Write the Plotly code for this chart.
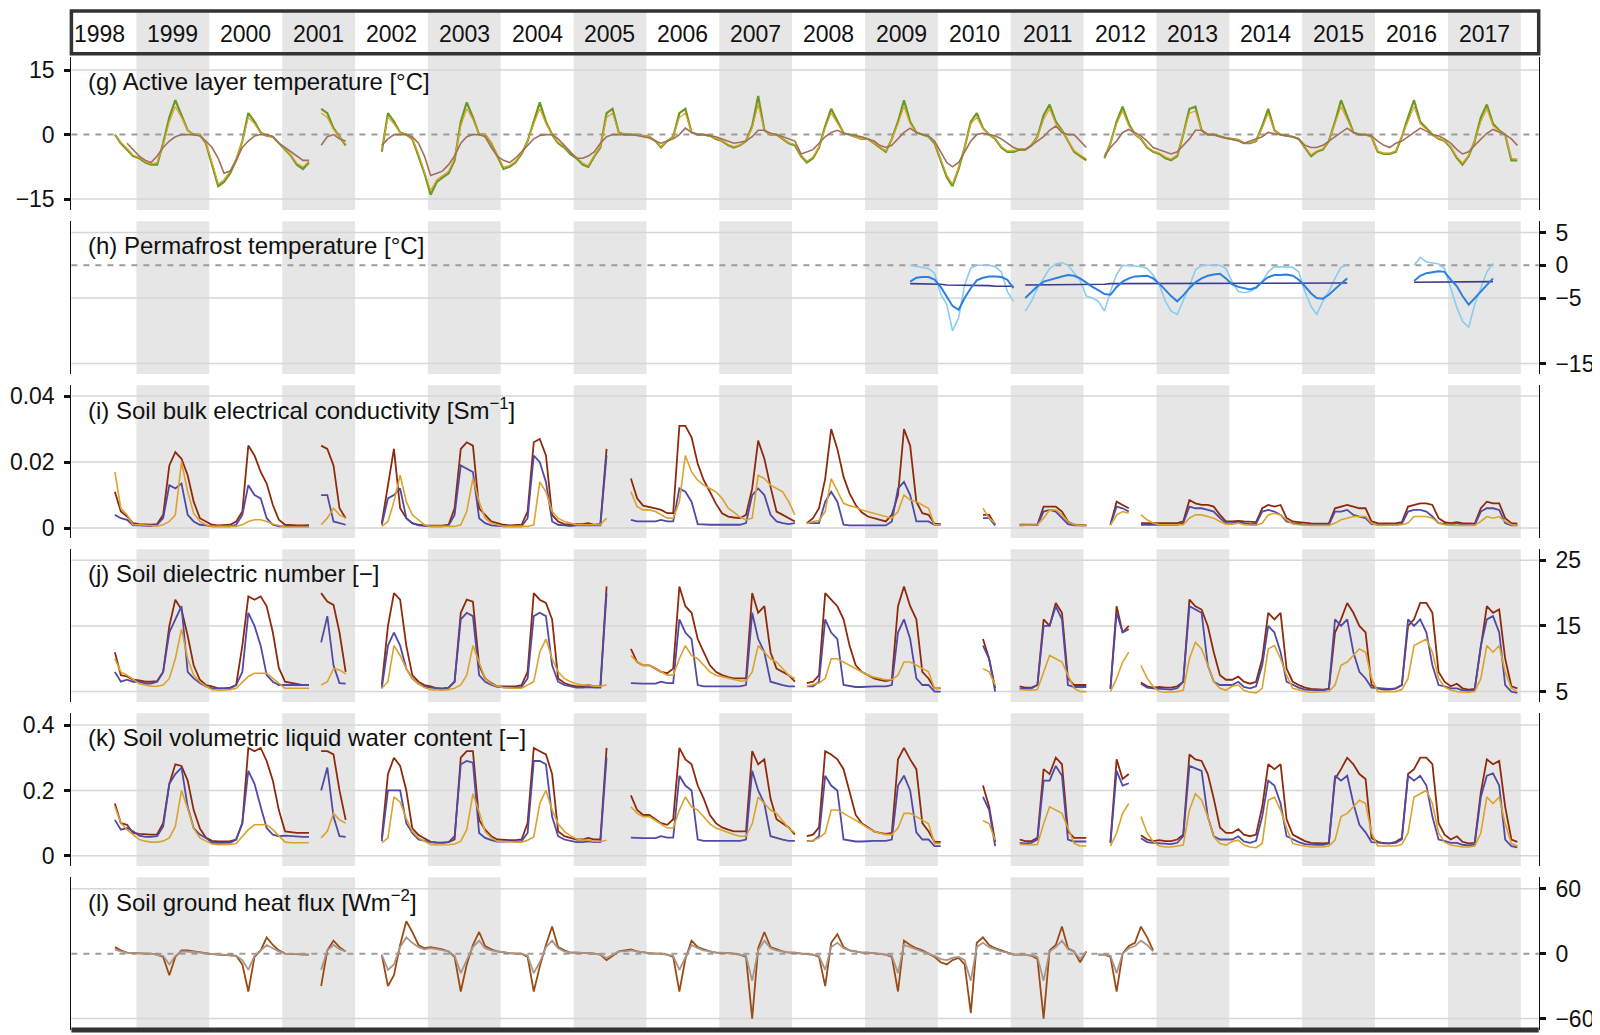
import plotly.graph_objects as go

N = None
YEARS = list(range(1998, 2018))
MONTHS = [f"{y}-{m:02d}-15" for y in YEARS for m in range(1, 13)]   # mid-month sample dates
YEAR_LABELS = [str(y) for y in YEARS]

# ---------------- (g) Active layer temperature [degC], monthly 1998-2017 ----------------
g_green = [
 N,N,N,N,N,N,N,N,0,-2,-3.5,-5,
 -5.5,-6.5,-7,-7,-2,4,8,4.5,1,0,0,-2,
 -7,-12,-11,-9,-6,-1.5,5,3,0.5,-0.3,-0.5,-2,
 -3.5,-5,-7,-8,-6.5,N,6,5,1.5,-0.5,-2.5,N,
 N,N,N,N,-4,5,3,0.5,0,-1,-5,-9,
 -14,-11,-10,-9,-6,3,7.5,4,0,0,-2,-5,
 -8,-7.5,-6.5,-4.5,-1.5,3,7.5,3,0,-2,-3,-4.5,
 -5.5,-7,-7.5,-5,-3,5,6,0.5,0,0,0,-0.3,
 -0.5,-1.5,-3,-1.5,-0.5,5,6,0.5,0,0,-0.3,-1,
 -1.5,-2.5,-3,-2.5,-1.5,2,9,1,0,0,-1,-2,
 -2.5,-5,-6.5,-5.5,-3,2,6,3,0.3,0,-0.5,-1,
 -1,-2,-3,-4,-1,3,8,3,0.5,0,-0.5,-2,
 -6,-10,-12,-8,-3,3,5,1.5,0,-1,-3,-4,
 -4,-3.5,-3.5,-2.5,-0.5,4.5,7,3,1,-1.5,-4,-5,
 -6,N,N,-5.5,-2,3,6.5,2.5,0,-1,-3,-4,
 -4.5,-5.5,-6,-5,0,6,6.5,1,0,0,-0.5,-0.8,
 -1,-1.2,-2,-2,-1.5,2,6,1,0,-0.3,-0.5,-1,
 -3,-5,-4,-3.5,-1.5,3,8,4,0.5,0,0,-0.5,
 -4,-4.5,-4.5,-4,-0.5,4,8,3,1.5,0,-1,-1.5,
 -3,-5.5,-7,-5,-1.5,4,7,2.5,1,0,-6,-6]
g_orange = [
 N,N,N,N,N,N,N,N,0,-1.8,-3.2,-4.8,
 -5.3,-6.3,-6.8,-6.5,-2.5,3,6.5,4,1,0,0,-1.8,
 -6.5,-11.5,-10.5,-8.5,-5.5,-1.5,4,2.5,0.3,-0.3,-0.5,-1.8,
 -3.3,-4.8,-6.7,-7.5,-6.2,N,5,4,1.2,-0.4,-2.2,N,
 N,N,N,N,-3.5,4,2.5,0.4,0,-0.8,-4.5,-8.5,
 -13,-10.5,-9.5,-8.5,-5.5,2,6,3.5,0,0,-1.8,-4.8,
 -7.5,-7.2,-6.2,-4.3,-1.5,2.5,6,2.5,0,-1.8,-2.8,-4.2,
 -5.2,-6.6,-7.2,-4.8,-2.8,4,5,0.4,0,0,0,-0.3,
 -0.5,-1.4,-2.8,-1.5,-0.5,4,5,0.5,0,0,-0.3,-0.9,
 -1.4,-2.3,-2.8,-2.4,-1.4,1.5,7,1,0,0,-0.9,-1.9,
 -2.3,-4.7,-6.2,-5.2,-2.8,1.5,5,2.5,0.3,0,-0.5,-1,
 -1,-1.9,-2.8,-3.8,-1,2.5,6.5,2.5,0.5,0,-0.5,-1.8,
 -5.6,-9.5,-11.5,-7.6,-2.9,2.5,4,1.3,0,-0.9,-2.8,-3.8,
 -3.8,-3.4,-3.4,-2.4,-0.5,3.5,6,2.5,0.8,-1.3,-3.7,-4.7,
 -5.6,N,N,-5.2,-1.9,2.5,5.5,2,0,-0.9,-2.8,-3.8,
 -4.3,-5.2,-5.7,-4.7,-0.2,5,5.5,1,0,0,-0.5,-0.8,
 -1,-1.2,-1.9,-1.9,-1.4,1.5,5,0.8,0,-0.3,-0.5,-1,
 -2.8,-4.7,-3.8,-3.3,-1.4,2.5,6.5,3.5,0.4,0,0,-0.5,
 -3.8,-4.3,-4.3,-3.8,-0.5,3,6.5,2.5,1.2,0,-0.9,-1.4,
 -2.8,-5.2,-6.6,-4.8,-1.4,3,6,2,0.8,0,-5.5,-5.7]
g_brown = [
 N,N,N,N,N,N,N,N,N,N,-2,-3.5,
 -5,-6,-6.5,-5,-3,-1.5,-0.5,0,0,0,-0.3,-1.5,
 -3,-5.5,-9,-8.5,-6,-3,-1.5,-0.3,0,0,-0.5,-2,
 -3,-4,-5,-6,-6,N,-2.5,-0.5,0,-1,-1.5,N,
 N,N,N,N,-2.5,-1,0,0,0,-0.5,-2,-5,
 -9.5,-9,-8.5,-7,-5,-2,-0.5,0,0,-0.5,-3,-5,
 -6,-6.5,-5.5,-4,-2.5,-1,-0.2,0,0,-1,-2.5,-4,
 -5.5,-5.5,-5,-4,-2,-0.5,0,0,0,0,-0.2,-0.5,
 -0.8,-1.5,-2,-1.5,-1,0,1.5,0.5,0,0,-0.2,-0.5,
 -1,-1.5,-2,-1.8,-1.5,-0.5,1,1,0.3,0,-0.5,-1,
 -1.5,-4.5,-4,-3.5,-2,-0.5,0.5,1,0.3,0,-0.3,-0.5,
 -1,-1.5,-2.5,-3,-2.5,-1,0.5,1.5,0.5,0,-0.3,-1.5,
 -4,-6.5,-7.5,-6.5,-4,-1.5,0,0.3,0,-0.3,-1,-2,
 -3,-3.5,-3.5,-2.5,-1.5,-0.5,1,2,0.5,0,0,-1.5,
 -3,N,N,-5,-3,-1.5,0.5,1.2,0.5,-0.3,-1.5,-3,
 -3.5,-4,-4.5,-4,-2.5,-1,1,1,0,0,-0.5,-0.8,
 -1.2,-1.5,-2,-1.5,-1,-0.5,0.5,0.2,0,-0.3,-0.5,-1,
 -2.5,-3,-3,-2.5,-1.5,-0.5,0.5,1.5,0.5,0,0,-0.3,
 -1.5,-2.5,-3,-2,-1.5,-0.5,0.5,1.5,0.8,0,-0.3,-1,
 -2,-3.5,-4.5,-4,-2.5,-1,0.3,1.2,0.5,0,-1,-2.5]

# ---------------- (h) Permafrost temperature [degC], monthly 2009-2017 ----------------
h_shallow = [
 N,N,N,N,N,N,N,0,-0.2,-0.3,-0.5,-1.2,
 -4.4,-6,-10,-8,-3,-0.4,0,0,0,-0.2,-1,-4,
 -5.5,N,-7,-5.5,-3.5,-2,-0.5,0.2,0.4,0,-1.2,-2.3,
 -4.7,-5,-5.5,-7,-4,-1.4,0,0,-0.1,-0.2,-0.5,-1.5,
 -3,-5.5,-7,-7.5,-5.5,-3.2,-0.7,0,0,0,0,-0.5,
 -2.5,-4,-4.2,-4,-3.5,-2.5,-1,-0.2,-0.2,-0.2,-0.3,-1,
 -4,-6.3,-7.5,-5.5,-4,-2,-0.3,0,N,N,N,N,
 N,N,N,N,N,N,0,1.2,0.5,0.4,0.2,-0.5,
 -3.5,-6.5,-8.5,-9.5,-6,-3.5,-1,0.3,N,N,N,N]
h_mid = [
 N,N,N,N,N,N,N,-2.5,-1.9,-1.8,-1.8,-2.2,
 -3.3,-4.8,-6.2,-6.8,-5,-3.5,-2.3,-1.9,-1.7,-1.7,-1.8,-2.2,
 -3.5,N,-5,-4,-3.2,-2.5,-2.2,-1.9,-1.7,-1.5,-1.6,-2,
 -2.7,-3.3,-3.8,-4.4,-4.5,-3.3,-2.5,-2,-1.7,-1.6,-1.6,-2,
 -2.8,-3.8,-4.7,-5.5,-4.6,-3.5,-2.6,-2,-1.6,-1.4,-1.3,-2,
 -2.9,-3.3,-3.5,-3.7,-3.4,-2.5,-1.8,-1.5,-1.5,-1.4,-1.6,-2.2,
 -3.2,-4.3,-5,-5.1,-4.5,-3.6,-2.8,-2,N,N,N,N,
 N,N,N,N,N,N,-2.4,-1.6,-1.2,-1,-0.9,-1,
 -2.2,-3.2,-4.7,-6,-5,-3.9,-2.9,-2,N,N,N,N]
h_deep = [
 N,N,N,N,N,N,N,-2.8,-2.8,-2.9,-2.9,-2.9,
 -2.9,-3,-3,-3,-3,-3,-3.1,-3.1,-3.1,-3.2,-3.2,-3.2,
 -3.2,N,-3,-3,-3,-2.9,-2.9,-2.9,-2.9,-2.9,-2.9,-2.9,
 -2.9,-2.9,-2.9,-2.9,-2.8,-2.8,-2.8,-2.8,-2.8,-2.8,-2.8,-2.8,
 -2.8,-2.8,-2.8,-2.8,-2.8,-2.8,-2.8,-2.8,-2.8,-2.8,-2.8,-2.8,
 -2.8,-2.8,-2.8,-2.8,-2.7,-2.7,-2.7,-2.7,-2.7,-2.7,-2.7,-2.7,
 -2.7,-2.7,-2.7,-2.7,-2.7,-2.7,-2.7,-2.7,N,N,N,N,
 N,N,N,N,N,N,-2.6,-2.6,-2.6,-2.6,-2.6,-2.6,
 -2.6,-2.6,-2.6,-2.6,-2.5,-2.5,-2.5,-2.5,N,N,N,N]

# ---------------- (i) Soil bulk electrical conductivity, in mS m-1, monthly 1998-2017 ----------------
i_red = [
 N,N,N,N,N,N,N,N,11,5,3.5,1.5,
 1.2,1,1,1.2,4,19,23,21,16,8,3,2,
 1,0.8,0.8,1,2,5,25,22,17,13.5,7,2.5,
 1,0.8,0.8,0.8,0.9,N,25,24,19,6,3,N,
 N,N,N,N,1.5,13,24,6,3,1.5,1,0.8,
 0.8,0.7,0.7,1,6,24,26,25,6,4,2,1.5,
 1,0.8,0.8,1,5,26,27,22,4,2,1.2,1,
 1.2,1.2,1.5,1,1.2,24,N,N,N,15,9,6.8,
 6.5,6,5.5,4.5,4.5,31,31,27.5,19.5,14.5,11,7.4,
 4.5,3.5,3.2,3,4,12,26.5,21,12.5,5,4,3,
 2,N,1.5,3,6,15,30,24,15.5,10.5,7,4.8,
 3.5,3,2.5,2,4,10,30,25,8,4.5,4,1.3,
 1.2,N,N,N,N,N,N,4,4,1,N,N,
 N,1,1,1,1,6.5,6.5,6.5,5,2,1,0.8,
 0.8,N,N,N,1,8,7,6,N,1.5,1.5,1.5,
 1.5,1.5,1.5,1.5,2,8.5,7.5,7,7,6.5,4,2,
 2,2.2,2,1.8,1.8,6,7,6.5,7,3,2,1.8,
 1.5,1.4,1.3,1.3,1.4,6,6.5,7,6.5,6,6,2,
 1.5,1.4,1.4,1.5,1.8,6.5,7,7.5,7.5,7,3,1.8,
 1.5,1.8,1.5,1.3,1.3,6,8,7.5,7.5,3,1.5,1.3]
i_navy = [
 N,N,N,N,N,N,N,N,4,3,2.5,0.8,
 0.8,0.6,0.6,1,3,13,12,13.5,4,2,1,0.8,
 0.5,0.5,0.5,0.5,1,4,13,10,9,3,1,0.5,
 0.5,0.5,0.5,0.5,0.5,N,10,10,2,1.5,1,N,
 N,N,N,N,1,9,10,12,3,1.5,0.8,0.6,
 0.5,0.5,0.5,0.8,4,19,18,17,3,1.5,0.8,0.6,
 0.5,0.5,0.5,0.5,3,22,20,14,2,1,0.8,0.6,
 0.8,0.8,0.9,0.8,0.8,22,N,N,N,2.5,2,2,
 2,2,2.5,2,2,12,11,8,1.2,1,1,1,
 1,1,1,1,1.5,10,12,10,4,2,1.5,1.2,
 1.5,N,1.5,1.5,1.5,8,11,8,1,0.8,0.8,0.8,
 0.8,0.8,0.8,0.8,2,12,14,10,2,2,2,1,
 1,N,N,N,N,N,N,3,3,0.8,N,N,
 N,0.8,0.8,0.8,1,5,5.5,5,3,1.2,0.8,0.8,
 0.8,N,N,N,1,6.5,6,5,N,1,1,1,
 1,1,1,1,1.5,6.5,6,6,5.5,5,3,1.5,
 1.5,1.8,1.5,1.2,1.3,5,5.5,5,4,2,1.5,1.2,
 1,1,1,1,1,5,5,5.5,4,3.5,3,1.2,
 1,1,1,1,1.3,5,5.5,5.5,5,3.5,1.5,1.2,
 1,1.5,1,0.9,0.9,5,6,6,5.5,1.5,0.8,0.8]
i_orange = [
 N,N,N,N,N,N,N,N,17,6,4,1,
 1,0.8,0.6,0.6,1,2,4,20,11,4.5,2,1,
 0.5,0.5,0.5,0.5,0.5,1,2,2.5,2.5,2,1.2,0.8,
 0.3,0.3,0.3,0.3,0.3,N,1,3,6,4,3,N,
 N,N,N,N,0.5,2,8,16,8,4,2.5,1,
 0.5,0.5,0.5,0.5,0.5,1,5,15,8,3,1.5,1,
 0.5,0.5,0.5,0.5,0.5,1,14,11,5,3,2,1.5,
 1,1,1,1,1,3,N,N,N,11,6.5,5.5,
 5.5,5,4,3,3,8,22,17,14.5,13,12,11,
 9,6,4.8,3.3,2.5,3,16,15,13,12,11,8,
 4,N,1.3,2,2.3,5,15,11,7.5,6.8,6.3,5.5,
 5,4.5,4,3.5,3,5,10,8.5,8,7,6,1,
 1,N,N,N,N,N,N,6,3,1.5,N,N,
 N,0.8,0.8,0.8,1,3,5.5,5.5,4,2,1,0.8,
 0.8,N,N,N,0.8,4,5,4.5,N,4,2.5,1.5,
 1,1,1,1,1,3,4,4,3.5,3,2,1.2,
 1.2,1.5,1,0.8,0.8,1.5,4,4.5,4,2.5,1.2,1,
 0.8,0.8,0.8,0.8,0.8,1.5,2.5,3,3.5,3.5,3.5,1.5,
 0.8,0.8,0.8,0.8,1,1.5,3.5,3.5,3.5,3,1.5,1,
 0.8,0.8,0.8,0.8,0.8,2,3.5,3,3.5,2,1,0.8]

# ---------------- (j) Soil dielectric number [-], monthly 1998-2017 ----------------
j_red = [
 N,N,N,N,N,N,N,N,11,7.5,7.3,6.8,
 6.7,6.5,6.5,6.6,8,15,19,17.5,13.5,9,6.8,6,
 5.8,5.5,5.5,5.6,6,12,19.5,19,19.5,18,14,8.6,
 6.5,6.3,6.2,6,6,N,20,18.7,18.2,14,8,N,
 N,N,N,N,6,15,20,19,12,7.5,6.5,6,
 5.8,5.5,5.4,5.6,6.5,17,19,18.7,9,7,6.3,5.8,
 5.8,5.8,5.8,6,8,20,19,18.5,16,7,6.3,6,
 5.8,5.8,6,5.8,5.8,21,N,N,N,11.5,9.5,9,
 9,8.5,8,7.8,8.5,21,18,17,13,11,9,8,
 7.5,7.2,7,7,7,20,17,18,11,8.5,8,7.5,
 6.5,N,6.3,6.5,7.5,20,19,18,16,12,9,8,
 7.5,7,6.8,6.6,6.8,18,21,18,16,8,7,5.5,
 5.5,N,N,N,N,N,N,13,10,5.5,N,N,
 N,5.8,5.6,5.6,6,16,15,18.5,17,7,6,6,
 6,N,N,N,5.5,18,14,15,N,6.4,5.8,5.6,
 5.7,5.6,5.6,5.8,6.5,19,18,17.5,15,11,7.5,6.8,
 6.8,7.3,6.5,6.2,6.5,10,17,16,17,8.5,6.5,6,
 5.6,5.4,5.3,5.3,5.4,14,16,18.5,17,15,14,6,
 5.5,5.3,5.3,5.5,6,15,16,18.5,18.5,17,8,6.5,
 5.8,6.2,5.5,5.3,5.4,12,18,17,17.5,10,5.8,5.5]
j_navy = [
 N,N,N,N,N,N,N,N,8,6.5,6.8,6.5,
 6.5,6.2,6.2,6.5,8,14,16,18,8,7,6.3,5.8,
 5.5,5.5,5.5,5.5,6,8,17,15,12,7.5,6.5,6,
 6,6,6,6,6,N,12.5,16.5,9,6.3,6.2,N,
 N,N,N,N,5.5,12,14,12,8.5,7,6.2,5.8,
 5.6,5.5,5.5,5.6,6.5,16,17,16.5,7.5,6.5,6,5.7,
 5.6,5.6,5.6,5.7,7,16.5,17,16.5,9,6.5,6,5.8,
 5.6,5.6,5.7,5.6,5.6,20,N,N,N,6.3,6.2,6.2,
 6.2,6.2,6.5,6.3,6.3,16,14,13,6,5.8,5.8,5.8,
 5.8,5.8,5.8,5.8,6,17,13,11,6.5,6.2,6,5.8,
 5.8,N,5.8,5.8,6.5,16,14,13,6,5.8,5.7,5.7,
 5.8,5.8,5.8,5.8,6,14,16,13,7,6,6,5,
 5,N,N,N,N,N,N,12,10,5,N,N,
 N,5.5,5.4,5.5,6,15,15,18,16,6,5.7,5.7,
 5.7,N,N,N,5.4,17,14,14.5,N,6.2,5.6,5.5,
 5.4,5.3,5.3,5.5,6.5,18,17.5,17,9,6.5,6,6,
 6,6.5,5.7,5.5,5.8,9,15,14,11,6.5,6,5.6,
 5.3,5.2,5.2,5.2,5.4,16,15,16,11,8,7,5.6,
 5.5,5.4,5.4,5.5,6,16,15,16,14,9,6,5.8,
 5.5,5.5,5.2,5.1,5.2,12,16,16.5,14,6,5,4.8]
j_orange = [
 N,N,N,N,N,N,N,N,10,8,7.5,6.8,
 6.2,6,5.8,5.8,6,7,10,14.5,10,7.5,6.5,5.8,
 5.3,5.2,5.2,5.3,5.5,6.5,7.3,7.8,7.8,7.8,7,6.2,
 5.5,5.5,5.5,5.5,5.5,N,6,6.5,8.5,8.3,7.7,N,
 N,N,N,N,5.5,6.5,12,10.5,8.5,7,6.2,5.6,
 5.3,5.2,5.2,5.3,5.5,6,7.5,12,9.5,7,6.2,5.8,
 5.6,5.5,5.5,5.5,6,6.5,11,13,10,8,7,6.5,
 6.2,6,6,5.8,5.8,6,N,N,N,10.5,9.5,9,
 9,8.5,8,7.5,7.5,10,12,10.5,10,9,8,7.5,
 7.3,7,6.8,6.6,6.6,8,12,11,10,9.5,8.5,7.5,
 7,N,5.8,6,6.3,7,10,10,9.5,9,8.5,8,
 7.5,7.2,7,6.8,6.8,7.5,9.5,9.5,9,8.5,8,5.5,
 5.5,N,N,N,N,N,N,8.5,8,6,N,N,
 N,5.3,5.2,5.2,5.3,8,10.5,10,9.5,7.5,5.5,5,
 5,N,N,N,5,7,9.5,11,N,9,7,5.8,
 5,4.9,4.9,5,5.2,10,12.5,11.5,9,6.5,5.5,5.2,
 5.8,6,5.2,4.9,4.8,5.5,11.5,12,10,7.5,5.5,5.2,
 5,4.9,4.9,4.9,5,6,9,9.5,10.5,11.5,11,7,
 5,5,5,5,5.3,7,12,12.5,13,11,7,5.7,
 5.2,5,4.9,4.9,5,7,12,11,12,8,5.5,5]

# ---------------- (k) Soil volumetric liquid water content [-], monthly 1998-2017 ----------------
k_red = [
 N,N,N,N,N,N,N,N,.16,.1,.095,.07,
 .067,.065,.065,.066,.1,.22,.28,.275,.23,.14,.084,.056,
 .046,.044,.044,.045,.05,.1,.33,.32,.33,.29,.23,.14,
 .075,.072,.07,.07,.07,N,.32,.32,.31,.2,.11,N,
 N,N,N,N,.055,.25,.3,.275,.2,.084,.064,.054,
 .043,.041,.04,.042,.05,.3,.32,.32,.11,.08,.06,.05,
 .048,.048,.048,.05,.1,.33,.32,.31,.25,.075,.06,.055,
 .05,.05,.055,.05,.05,.33,N,N,N,.185,.14,.125,
 .125,.112,.1,.095,.112,.33,.295,.28,.215,.175,.125,.1,
 .087,.08,.075,.075,.075,.32,.28,.295,.175,.112,.1,.087,
 .065,N,.06,.065,.087,.32,.31,.295,.265,.195,.125,.1,
 .087,.075,.07,.067,.07,.295,.33,.295,.265,.1,.075,.043,
 .043,N,N,N,N,N,N,.215,.15,.043,N,N,
 N,.05,.045,.045,.055,.265,.25,.3,.28,.075,.055,.055,
 .055,N,N,N,.043,.295,.235,.25,N,.063,.05,.045,
 .048,.045,.045,.05,.065,.31,.295,.29,.25,.175,.087,.07,
 .07,.082,.065,.06,.065,.15,.28,.265,.28,.112,.065,.055,
 .045,.04,.038,.038,.04,.235,.265,.3,.28,.25,.235,.055,
 .043,.038,.038,.043,.055,.25,.265,.3,.3,.28,.1,.065,
 .05,.06,.043,.038,.04,.195,.295,.28,.29,.15,.05,.043]
k_navy = [
 N,N,N,N,N,N,N,N,.11,.08,.085,.075,
 .062,.058,.058,.06,.09,.22,.25,.27,.15,.085,.065,.055,
 .04,.04,.04,.04,.05,.1,.26,.22,.15,.085,.065,.06,
 .062,.06,.06,.058,.058,N,.2,.27,.12,.06,.058,N,
 N,N,N,N,.045,.2,.2,.2,.1,.07,.05,.045,
 .042,.04,.04,.042,.06,.28,.29,.285,.07,.055,.048,.044,
 .044,.044,.044,.045,.07,.29,.29,.28,.12,.06,.05,.046,
 .042,.042,.044,.042,.042,.3,N,N,N,.056,.054,.054,
 .054,.054,.06,.056,.056,.245,.215,.2,.05,.046,.046,.046,
 .046,.046,.046,.046,.05,.26,.2,.16,.06,.054,.05,.046,
 .046,N,.046,.046,.06,.245,.215,.2,.05,.046,.044,.044,
 .046,.046,.046,.046,.05,.215,.245,.2,.072,.05,.05,.03,
 .03,N,N,N,N,N,N,.18,.14,.03,N,N,
 N,.04,.038,.04,.05,.23,.23,.275,.245,.05,.044,.044,
 .044,N,N,N,.038,.26,.215,.222,N,.054,.042,.04,
 .038,.036,.036,.04,.06,.275,.268,.26,.12,.06,.05,.05,
 .05,.06,.044,.04,.046,.12,.23,.215,.16,.06,.05,.042,
 .036,.034,.034,.034,.038,.245,.23,.245,.16,.095,.072,.042,
 .04,.038,.038,.04,.05,.245,.23,.245,.215,.12,.05,.046,
 .04,.04,.034,.032,.034,.18,.245,.252,.215,.05,.03,.026]
k_orange = [
 N,N,N,N,N,N,N,N,.15,.1,.08,.065,
 .05,.045,.042,.042,.045,.055,.09,.2,.145,.084,.055,.045,
 .036,.034,.034,.035,.038,.058,.08,.095,.095,.095,.08,.06,
 .042,.04,.04,.04,.04,N,.055,.075,.13,.11,.1,N,
 N,N,N,N,.04,.055,.18,.165,.114,.075,.055,.045,
 .035,.033,.033,.034,.036,.045,.08,.19,.134,.074,.055,.045,
 .044,.042,.042,.042,.048,.058,.16,.2,.14,.098,.075,.062,
 .052,.048,.048,.044,.044,.048,N,N,N,.15,.13,.12,
 .12,.108,.098,.085,.085,.14,.18,.15,.14,.12,.098,.085,
 .078,.07,.065,.06,.06,.098,.18,.16,.14,.13,.108,.085,
 .07,N,.044,.048,.055,.07,.14,.14,.13,.12,.108,.098,
 .085,.075,.07,.065,.065,.085,.13,.13,.12,.108,.098,.038,
 .038,N,N,N,N,N,N,.108,.098,.048,N,N,
 N,.035,.033,.033,.035,.098,.15,.14,.13,.085,.038,.03,
 .03,N,N,N,.03,.07,.13,.16,N,.12,.07,.044,
 .03,.027,.027,.03,.033,.14,.19,.17,.12,.058,.038,.033,
 .044,.048,.033,.027,.025,.038,.17,.18,.14,.085,.038,.033,
 .03,.027,.027,.027,.03,.048,.12,.13,.15,.17,.16,.07,
 .03,.03,.03,.03,.035,.07,.18,.19,.2,.16,.07,.042,
 .033,.03,.027,.027,.03,.07,.18,.16,.18,.098,.038,.03]

# ---------------- (l) Soil ground heat flux [W m-2], monthly 1998-2012 ----------------
l_flux = [
 N,N,N,N,N,N,N,N,6,3,1,0.5,
 0.5,0,0,-1,-3,-20,-3,3,3,2,1,0,
 -0.5,-1,-1,-1.5,-2,-10,-35,-3,3,15,8,3,
 0,0,-0.5,-1,-1,N,-30,3,12,6,2,N,
 N,N,N,N,-1,-30,-20,8,30,20,8,5,
 6,5,4,2,-3,-35,-10,8,20,7,4,2,
 1,0.5,0,0,-3,-35,-12,8,25,6,3,1,
 1,1,0.5,0,-1,-6,-2,2,3,4,2,1,
 0.5,0,0,-1,-3,-35,-5,12,6,4,2,1,
 1,0.5,0,-1,-3,-60,5,20,6,4,2,1,
 1,0,-0.5,-1,-3,-30,10,18,6,3,2,1,
 1,0.5,0,-1,-3,-35,12,8,5,3,0,-3,
 -8,-10,-6,-4,-10,-55,10,15,8,5,3,1,
 -1,-1,-1,-2,-5,-60,3,8,25,5,2,-8,
 2,N,-1,-1,-3,-35,0,7,10,25,15,3]
l_flux_smooth = [
 N,N,N,N,N,N,N,N,4,2,1,0.5,
 0.5,0,0,-1,-2,-10,-2,2,2,1.5,1,0,
 -0.5,-0.5,-1,-1,-2,-6,-15,-2,3,8,5,2,
 0,0,-0.5,-0.5,-1,N,-15,3,8,4,2,N,
 N,N,N,N,-1,-15,-10,6,15,10,6,4,
 5,4,3,2,-2,-18,-6,6,12,5,3,2,
 1,0.5,0,0,-2,-18,-8,6,12,5,2,1,
 1,1,0.5,0,-1,-4,-1,2,2,3,2,1,
 0.5,0,0,-1,-2,-15,-3,8,5,3,2,1,
 1,0.5,0,-1,-2,-25,3,12,5,3,2,1,
 1,0,-0.5,-1,-2,-15,6,10,5,3,2,1,
 1,0.5,0,-1,-2,-18,8,6,4,2,0,-2,
 -5,-6,-4,-3,-6,-25,6,10,6,4,2,1,
 -1,-1,-1,-1.5,-3,-25,2,6,12,4,2,-5,
 2,N,-1,-1,-2,-18,0,5,7,12,8,2]

# ---------------- layout constants ----------------
# the page body has an 8 px default margin, so the figure is drawn 8 px in from the corner
OFF = 8
W, H = 1600 - OFF, 1035 - OFF
L_PX, R_PX = 71.4, 1538.7          # axis positions in page pixels
XL, XR = (L_PX - OFF) / W, (R_PX - OFF) / W
X_RANGE = ["1998-02-09", "2018-04-01"]
BOX_TOP, BOX_BOT = 9, 52
FONT = "Liberation Sans, Arial, Helvetica, sans-serif"
BAND = "#E6E6E6"
GRID = "#D6D6D6"
MINUS = "\u2212"


def py(px):
    return 1 - (px - OFF) / H


def pxx(px):
    return (px - OFF) / W


panels = [
    dict(top=55.5, bot=209.0, rng=[-17.55, 17.99], side="left",
         tv=[15, 0, -15], tt=["15", "0", MINUS + "15"], grid=[15, -15], dash=[0],
         title="(g) Active layer temperature [°C]"),
    dict(top=220.3, bot=373.8, rng=[-16.6, 6.72], side="right",
         tv=[5, 0, -5, -15], tt=["5", "0", MINUS + "5", MINUS + "15"], grid=[5, -5, -15], dash=[0],
         title="(h) Permafrost temperature [°C]"),
    dict(top=385.1, bot=538.6, rng=[-0.00302, 0.04329], side="left",
         tv=[0.04, 0.02, 0], tt=["0.04", "0.02", "0"], grid=[0.04, 0.02, 0], dash=[],
         title="(i) Soil bulk electrical conductivity [Sm<sup>" + MINUS + "1</sup>]"),
    dict(top=549.9, bot=703.4, rng=[3.41, 26.68], side="right",
         tv=[25, 15, 5], tt=["25", "15", "5"], grid=[25, 15, 5], dash=[],
         title="(j) Soil dielectric number [" + MINUS + "]"),
    dict(top=714.7, bot=868.2, rng=[-0.031, 0.4359], side="left",
         tv=[0.4, 0.2, 0], tt=["0.4", "0.2", "0"], grid=[0.4, 0.2, 0], dash=[],
         title="(k) Soil volumetric liquid water content [" + MINUS + "]"),
    dict(top=879.5, bot=1033.0, rng=[-70.57, 70.57], side="right",
         tv=[60, 0, -60], tt=["60", "0", MINUS + "60"], grid=[60, -60], dash=[0],
         title="(l) Soil ground heat flux [Wm<sup>" + MINUS + "2</sup>]"),
]

fig = go.Figure()


def add(n, x, y, color, width):
    sfx = "" if n == 1 else str(n)
    fig.add_trace(go.Scatter(x=x, y=y, mode="lines", xaxis="x" + sfx, yaxis="y" + sfx,
                             line=dict(color=color, width=width), connectgaps=False,
                             hoverinfo="skip", showlegend=False))


mS = lambda arr: [None if v is None else v / 1000.0 for v in arr]

# (g)
add(1, MONTHS, g_green, "#6B9A22", 2.2)
add(1, MONTHS, g_orange, "#E0A22A", 1.2)
add(1, MONTHS, g_brown, "#A0705A", 1.6)
# (h)
H_MONTHS = MONTHS[132:]
add(2, H_MONTHS, h_shallow, "#8ACDF0", 1.6)
add(2, H_MONTHS, h_deep, "#3D3A8A", 1.6)
add(2, H_MONTHS, h_mid, "#2B7FE3", 2.0)
# (i)
add(3, MONTHS, mS(i_red), "#8E2A0C", 1.8)
add(3, MONTHS, mS(i_navy), "#5149A6", 1.8)
add(3, MONTHS, mS(i_orange), "#DBA22E", 1.6)
# (j)
add(4, MONTHS, j_red, "#8E2A0C", 1.8)
add(4, MONTHS, j_navy, "#5149A6", 1.8)
add(4, MONTHS, j_orange, "#DBA22E", 1.6)
# (k)
add(5, MONTHS, k_red, "#8E2A0C", 1.8)
add(5, MONTHS, k_navy, "#5149A6", 1.8)
add(5, MONTHS, k_orange, "#DBA22E", 1.6)
# (l)
L_MONTHS = MONTHS[:180]
add(6, L_MONTHS, l_flux, "#9A4A14", 1.8)
add(6, L_MONTHS, l_flux_smooth, "#A8968A", 1.8)

shapes = []
annotations = []

# shaded odd years: header box + every panel
odd_years = [y for y in YEARS if y % 2 == 1]
spans = [(BOX_TOP, BOX_BOT), (BOX_BOT, panels[0]["bot"])] + [(p["top"], p["bot"]) for p in panels[1:]]
for (t, b) in spans:
    for y in odd_years:
        shapes.append(dict(type="rect", xref="x", yref="paper", x0=f"{y}-01-01", x1=f"{y + 1}-01-01",
                           y0=py(b), y1=py(t), fillcolor=BAND, line=dict(width=0), layer="below"))

layout_axes = {}
for k, p in enumerate(panels, start=1):
    sfx = "" if k == 1 else str(k)
    yref = "y" + sfx
    for gv in p["grid"]:
        shapes.append(dict(type="line", xref="paper", yref=yref, x0=XL, x1=XR, y0=gv, y1=gv,
                           line=dict(color=GRID, width=1.5), layer="below"))
    for dv in p["dash"]:
        shapes.append(dict(type="line", xref="paper", yref=yref, x0=XL, x1=XR, y0=dv, y1=dv,
                           line=dict(color="#9C9C9C", width=2, dash="6px,6px"), layer="below"))
    layout_axes["xaxis" + sfx] = dict(domain=[XL, XR], range=X_RANGE, type="date", anchor=yref,
                                      showgrid=False, showticklabels=False, showline=False,
                                      zeroline=False, ticks="", fixedrange=True)
    layout_axes["yaxis" + sfx] = dict(domain=[py(p["bot"]), py(p["top"])], range=p["rng"],
                                      anchor="x" + sfx, side=p["side"], tickmode="array",
                                      tickvals=p["tv"], ticktext=p["tt"], showgrid=False,
                                      zeroline=False, showline=True, mirror=True,
                                      linecolor="#111111", linewidth=1.3, ticks="outside",
                                      ticklen=6, tickwidth=3, tickcolor="#111111",
                                      ticklabelstandoff=5,
                                      tickfont=dict(family=FONT, size=23, color="#111111"))
    annotations.append(dict(xref="paper", yref="paper", x=pxx(86), y=py(p["top"] + 24),
                            xanchor="left", yanchor="middle", showarrow=False, text=p["title"],
                            font=dict(family=FONT, size=24, color="#111111")))

# year header
for y, lab in zip(YEARS, YEAR_LABELS):
    annotations.append(dict(xref="x", yref="paper", x=f"{y}-07-02", y=py(32), xanchor="center",
                            yanchor="middle", showarrow=False, text=lab,
                            font=dict(family=FONT, size=23, color="#111111")))
shapes.append(dict(type="rect", xref="paper", yref="paper", x0=XL, x1=XR, y0=py(BOX_BOT), y1=py(BOX_TOP),
                   line=dict(color="#333333", width=3.5), fillcolor="rgba(0,0,0,0)", layer="above"))
shapes.append(dict(type="line", xref="paper", yref="paper", x0=XL, x1=XR, y0=py(1033.0), y1=py(1033.0),
                   line=dict(color="#333333", width=5), layer="above"))

fig.update_layout(width=W, height=H, margin=dict(l=0, r=0, t=0, b=0),
                  paper_bgcolor="white", plot_bgcolor="rgba(0,0,0,0)",
                  shapes=shapes, annotations=annotations, showlegend=False,
                  font=dict(family=FONT, size=23, color="#111111"), **layout_axes)

for name, arr, n in [("g_green", g_green, 240), ("g_orange", g_orange, 240), ("g_brown", g_brown, 240),
                     ("h_shallow", h_shallow, 108), ("h_mid", h_mid, 108), ("h_deep", h_deep, 108),
                     ("i_red", i_red, 240), ("i_navy", i_navy, 240), ("i_orange", i_orange, 240),
                     ("j_red", j_red, 240), ("j_navy", j_navy, 240), ("j_orange", j_orange, 240),
                     ("k_red", k_red, 240), ("k_navy", k_navy, 240), ("k_orange", k_orange, 240),
                     ("l_flux", l_flux, 180), ("l_flux_smooth", l_flux_smooth, 180)]:
    if len(arr) != n:
        print("LENGTH MISMATCH", name, len(arr), n)

fig.write_html("out.html")
